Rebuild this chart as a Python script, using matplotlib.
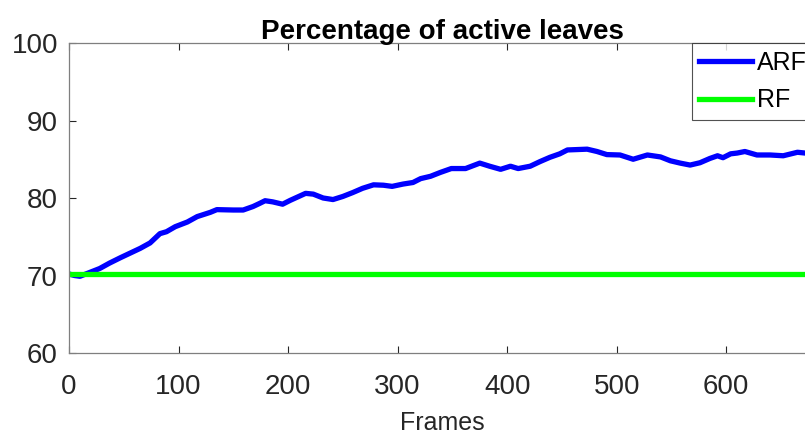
import numpy as np
import matplotlib.pyplot as plt

plt.rcParams['font.family'] = ['Liberation Sans', 'DejaVu Sans']

# frame index and percentage of active leaves
frames = [0, 5, 10, 19, 28, 37, 47, 56, 65, 74, 83, 89, 97, 108, 117, 129, 135,
          150, 159, 168, 174, 179, 186, 195, 202, 216, 223, 232, 241, 250, 259,
          268, 278, 287, 295, 305, 314, 321, 330, 339, 349, 362, 375, 384, 394,
          403, 410, 421, 430, 439, 448, 455, 473, 482, 491, 503, 515, 528, 540,
          549, 558, 567, 576, 585, 592, 597, 604, 610, 617, 628, 640, 652, 665,
          672, 681]
arf = [70.2, 70.0, 69.9, 70.4, 70.9, 71.6, 72.3, 72.9, 73.5, 74.2, 75.4, 75.65,
       76.3, 76.9, 77.6, 78.15, 78.5, 78.45, 78.45, 78.9, 79.3, 79.65, 79.5,
       79.2, 79.7, 80.6, 80.5, 80.0, 79.8, 80.2, 80.7, 81.25, 81.7, 81.65,
       81.5, 81.8, 82.0, 82.5, 82.8, 83.3, 83.8, 83.8, 84.5, 84.1, 83.7, 84.1,
       83.8, 84.1, 84.7, 85.25, 85.7, 86.2, 86.3, 86.0, 85.6, 85.55, 85.0,
       85.55, 85.3, 84.8, 84.5, 84.25, 84.55, 85.1, 85.45, 85.2, 85.7, 85.8,
       86.0, 85.55, 85.55, 85.45, 85.9, 85.8, 85.8]
rf_level = 70.15

x_ticks = [0, 100, 200, 300, 400, 500, 600]
y_ticks = [60, 70, 80, 90, 100]

fig = plt.figure(figsize=(8.05, 4.36), dpi=100)
ax = fig.add_axes([69/805, 1-353/436, 746/805, 310/436])

ax.plot(frames, arf, color='#0000ff', lw=3.8, label='ARF')
ax.plot([frames[0], frames[-1]], [rf_level, rf_level], color='#00ff00', lw=3.8, label='RF')

ax.set_xticks(x_ticks)
ax.set_yticks(y_ticks)
ax.set_xlim(0, 681)
ax.set_ylim(60, 100)
ax.tick_params(direction='in', length=5, width=0.8, colors='#262626',
               labelsize=20, top=True, right=True)
ax.tick_params(axis='x', pad=15)
ax.tick_params(axis='y', pad=8)
for s in ax.spines.values():
    s.set_color('#7f7f7f')
    s.set_linewidth(0.9)

ax.set_title('Percentage of active leaves', fontsize=20, fontweight='bold', pad=3)
ax.set_xlabel('Frames', fontsize=18, color='#262626', labelpad=8)

leg = ax.legend(loc='upper left', bbox_to_anchor=(0.835, 1.0), fontsize=18,
                frameon=True, fancybox=False, handlelength=2.1, handletextpad=0.2,
                labelspacing=0.55, borderpad=0.3, borderaxespad=0)
leg.get_frame().set_edgecolor('#262626')
leg.get_frame().set_linewidth(0.8)

fig.savefig('out.png', dpi=100)
